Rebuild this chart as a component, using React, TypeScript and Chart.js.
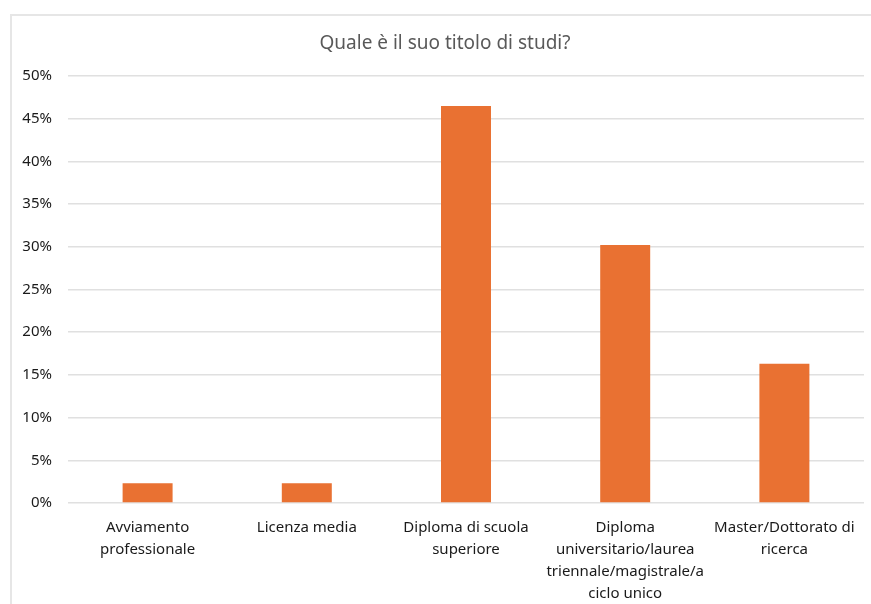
import React, { useEffect, useRef } from "react";
import { Chart, registerables } from "chart.js";

Chart.register(...registerables);

const TITLE = "Quale è il suo titolo di studi?";
const CATEGORIES: string[][] = [
  ["Avviamento", "professionale"],
  ["Licenza media"],
  ["Diploma di scuola", "superiore"],
  ["Diploma", "universitario/laurea", "triennale/magistrale/a", "ciclo unico"],
  ["Master/Dottorato di", "ricerca"],
];
const VALUES = [2.3, 2.3, 46.5, 30.2, 16.3];
const Y_MAX = 50;
const Y_STEP = 5;

const FONT = "'Noto Sans', sans-serif";

export default function App() {
  const ref = useRef<HTMLCanvasElement | null>(null);

  useEffect(() => {
    if (!ref.current) return;
    const chart = new Chart(ref.current, {
      type: "bar",
      data: {
        labels: CATEGORIES,
        datasets: [
          {
            data: VALUES,
            backgroundColor: "#E97132",
            categoryPercentage: 1,
            barPercentage: 0.314,
          },
        ],
      },
      options: {
        animation: false,
        responsive: false,
        maintainAspectRatio: false,
        layout: { padding: { top: 76, right: 7, left: 0, bottom: 0 } },
        plugins: {
          legend: { display: false },
          tooltip: { enabled: false },
          title: { display: false },
        },
        scales: {
          x: {
            grid: { display: false },
            border: { display: false },
            ticks: {
              color: "#1a1a1a",
              font: { family: FONT, size: 15, lineHeight: 1.47 },
              maxRotation: 0,
              minRotation: 0,
              autoSkip: false,
              padding: 6,
            },
            afterFit: (s: any) => {
              s.height = 101;
            },
          },
          y: {
            min: 0,
            max: Y_MAX,
            border: { display: false },
            grid: { color: "#e0e0e0", lineWidth: 1.5, drawTicks: false },
            ticks: {
              stepSize: Y_STEP,
              color: "#1a1a1a",
              font: { family: FONT, size: 15 },
              padding: 16,
              callback: (v: any) => v + "%",
            },
            afterFit: (s: any) => {
              s.width = 68;
            },
          },
        },
      },
    });
    return () => chart.destroy();
  }, []);

  return (
    <div style={{ position: "fixed", left: 0, top: 0, width: 871, height: 604, background: "#fff", overflow: "hidden" }}>
      <div
        style={{
          position: "absolute",
          left: 10,
          top: 14,
          width: 900,
          height: 700,
          border: "2px solid #e6e6e6",
          boxSizing: "border-box",
        }}
      />
      <canvas ref={ref} width={871} height={604} style={{ position: "absolute", left: 0, top: 0 }} />
      <div
        style={{
          position: "absolute",
          left: 245,
          width: 400,
          top: 31,
          height: 23,
          lineHeight: "23px",
          textAlign: "center",
          fontFamily: FONT,
          fontSize: 19,
          color: "#595959",
          whiteSpace: "nowrap",
        }}
      >
        {TITLE}
      </div>
    </div>
  );
}
